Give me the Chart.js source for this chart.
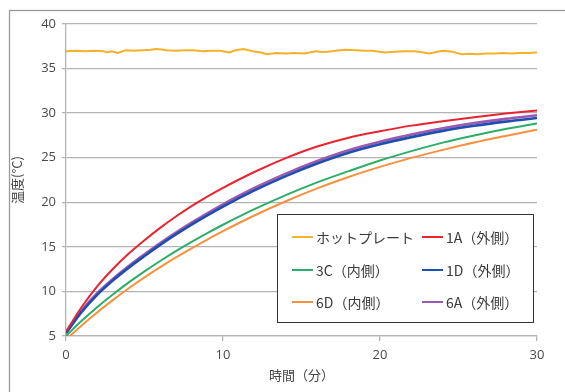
<!DOCTYPE html>
<html>
<head>
<meta charset="utf-8">
<script src="https://cdn.jsdelivr.net/npm/chart.js@4/dist/chart.umd.min.js"></script>
<style>
  html, body { margin: 0; padding: 0; background: #fff; }
  #wrap { width: 565px; height: 392px; position: relative; }
</style>
</head>
<body>
<div id="wrap"><canvas id="chart_temp" width="565" height="392"></canvas></div>
<script>
// データ
const seriesLabels = ['ホットプレート', '1A（外側）', '3C（内側）', '1D（外側）', '6D（内側）', '6A（外側）'];
const seriesColors = ['#f6b12c', '#e9232f', '#2bae69', '#1f4fae', '#f7903f', '#9a5ab2'];

// 時間（分）
const timeMin = [0, 1, 2, 3, 4, 5, 6, 7, 8, 9, 10, 12, 14, 16, 18, 20, 22, 24, 26, 28, 30];
const temp1A = [5.5, 8.25, 10.6, 12.55, 14.25, 15.75, 17.13, 18.4, 19.57, 20.64, 21.62, 23.4, 24.95, 26.25, 27.25, 27.97, 28.6, 29.1, 29.55, 29.95, 30.3];
const temp3C = [5.0, 6.7, 8.25, 9.68, 11.01, 12.25, 13.41, 14.51, 15.55, 16.54, 17.48, 19.23, 20.81, 22.23, 23.49, 24.69, 25.74, 26.69, 27.49, 28.21, 28.85];
const temp1D = [5.3, 7.7, 9.65, 11.25, 12.67, 13.97, 15.22, 16.39, 17.49, 18.53, 19.52, 21.33, 22.94, 24.35, 25.56, 26.51, 27.31, 28.01, 28.58, 29.05, 29.45];
const temp6D = [4.6, 6.18, 7.66, 9.05, 10.35, 11.57, 12.72, 13.81, 14.84, 15.82, 16.76, 18.52, 20.12, 21.56, 22.84, 23.97, 24.98, 25.88, 26.7, 27.44, 28.15];
const temp6A = [5.4, 7.85, 9.82, 11.43, 12.86, 14.17, 15.43, 16.61, 17.72, 18.77, 19.77, 21.6, 23.22, 24.64, 25.85, 26.8, 27.6, 28.3, 28.88, 29.36, 29.76];

// ホットプレート（細かい揺れ）
const hotTime = [0, 0.6, 1.2, 1.8, 2.4, 2.6, 2.9, 3.3, 3.8, 4.3, 4.9, 5.4, 5.7, 6.1, 6.4, 7.0, 7.6, 8.1, 8.7, 9.2, 9.8, 10.4, 10.8, 11.3, 11.9, 12.4, 12.8, 13.4, 14.0, 14.5, 15.2, 15.9, 16.3, 16.7, 17.2, 17.8, 18.5, 19.0, 19.5, 20.3, 20.9, 21.6, 22.2, 22.6, 23.1, 23.6, 24.0, 24.6, 25.2, 25.7, 26.2, 26.8, 27.3, 27.8, 28.4, 28.9, 29.4, 30];
const hotTemp  = [36.95, 37.0, 36.95, 37.0, 36.95, 36.8, 36.95, 36.75, 37.05, 37.0, 37.05, 37.1, 37.2, 37.15, 37.05, 37.0, 37.05, 37.05, 36.95, 37.0, 37.0, 36.8, 37.05, 37.2, 36.95, 36.8, 36.6, 36.75, 36.7, 36.75, 36.7, 36.95, 36.85, 36.9, 37.0, 37.1, 37.05, 37.0, 37.0, 36.8, 36.9, 36.95, 36.95, 36.85, 36.7, 36.85, 37.0, 36.9, 36.6, 36.65, 36.6, 36.7, 36.7, 36.75, 36.7, 36.75, 36.75, 36.8];

// 目盛り
const yMin = 5, yMax = 40, yStep = 5;
const xMin = 0, xMax = 30, xStep = 10;

function toPoints(xs, ys) {
  return xs.map((x, i) => ({ x: x, y: ys[i] }));
}

const seriesValues = [
  toPoints(hotTime, hotTemp),
  toPoints(timeMin, temp1A),
  toPoints(timeMin, temp3C),
  toPoints(timeMin, temp1D),
  toPoints(timeMin, temp6D),
  toPoints(timeMin, temp6A),
];

const data = {
  datasets: seriesLabels.map((label, i) => ({
    label: label,
    data: seriesValues[i],
    borderColor: seriesColors[i],
    backgroundColor: seriesColors[i],
    borderWidth: (i === 3 || i === 5) ? 2.6 : 2,
    pointRadius: 0,
    tension: i === 0 ? 0 : 0.4,
    cubicInterpolationMode: i === 0 ? 'default' : 'monotone',
  }))
};

// 外枠
const frame = {
  id: 'frame',
  afterDraw(chart) {
    const c = chart.ctx;
    c.save();
    c.strokeStyle = '#9a9a9a';
    c.lineWidth = 1.3;
    c.strokeRect(9.5, 10.5, chart.width + 20, chart.height + 20);
    c.restore();
  }
};

// 凡例（グラフの中）
const boxLegend = {
  id: 'boxLegend',
  afterDraw(chart) {
    const c = chart.ctx;
    const left = 277.5, top = 214.5, w = 256, h = 108;
    c.save();
    c.fillStyle = '#fff';
    c.fillRect(left, top, w, h);
    c.strokeStyle = '#333';
    c.lineWidth = 1;
    c.strokeRect(left, top, w, h);
    c.font = '14px "Noto Sans CJK JP"';
    c.textBaseline = 'middle';
    c.fillStyle = '#3a3a3a';
    const colX = [292, 422];
    const rowY = [237, 270, 302];
    chart.data.datasets.forEach((ds, i) => {
      const x = colX[i % 2], y = rowY[Math.floor(i / 2)];
      c.strokeStyle = ds.borderColor;
      c.lineWidth = 2;
      c.beginPath();
      c.moveTo(x, y);
      c.lineTo(x + 21, y);
      c.stroke();
      c.fillText(ds.label, x + 24, y + 1);
    });
    c.restore();
  }
};

const ctx = document.getElementById('chart_temp');
const chart_temp = new Chart(ctx, {
  type: 'line',
  data: data,
  plugins: [frame, boxLegend],
  options: {
    responsive: false,
    animation: false,
    devicePixelRatio: 1,
    layout: { autoPadding: false, padding: { left: 0, top: 24, right: 28, bottom: 0 } },
    plugins: {
      legend: { display: false },
      tooltip: { enabled: false },
    },
    scales: {
      x: {
        type: 'linear',
        min: xMin, max: xMax,
        ticks: { stepSize: xStep, color: '#4a4a4a', font: { family: 'Open Sans', size: 13 }, padding: 6, maxRotation: 0 },
        grid: { drawOnChartArea: false, drawTicks: true, tickLength: 5, color: '#b4b4b4', lineWidth: 1.3 },
        border: { color: '#b4b4b4', width: 1.3 },
        title: { display: true, text: '時間（分）', color: '#444', font: { family: 'Noto Sans CJK JP', size: 13 }, padding: { top: 0, bottom: 9 } },
        afterFit(scale) { scale.height = 56; }
      },
      y: {
        min: yMin, max: yMax,
        ticks: { stepSize: yStep, color: '#4a4a4a', font: { family: 'Open Sans', size: 13 }, padding: 6 },
        grid: { drawTicks: true, tickLength: 4, color: '#b4b4b4', lineWidth: 1.3 },
        border: { color: '#b4b4b4', width: 1.3 },
        title: { display: true, text: '温度(°C)', color: '#444', font: { family: 'Noto Sans CJK JP', size: 13 }, padding: { top: 9, bottom: 0 } },
        afterFit(scale) { scale.width = 66; }
      }
    }
  }
});
</script>
</body>
</html>
